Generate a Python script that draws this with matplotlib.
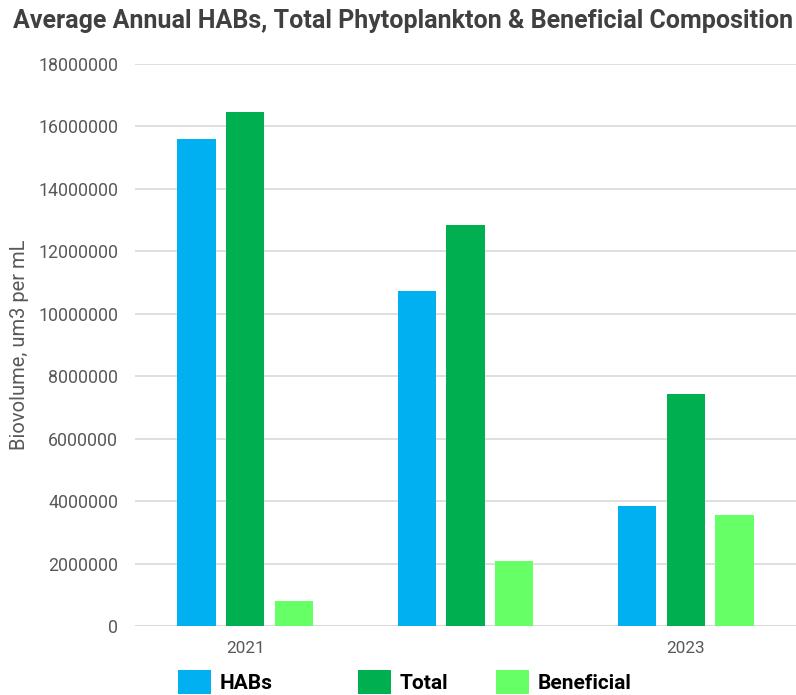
import matplotlib
matplotlib.use("Agg")
import matplotlib.pyplot as plt
from matplotlib.patches import Patch
import numpy as np

years = ["2021", "2022", "2023"]
year_labels = ["2021", "", "2023"]
habs = [15600000, 10730000, 3850000]
total = [16450000, 12830000, 7420000]
beneficial = [810000, 2080000, 3550000]
series_names = ["HABs", "Total", "Beneficial"]
colors = ["#00B0F0", "#00B050", "#66FF66"]
yticks = list(range(0, 18000001, 2000000))

plt.rcParams["font.family"] = ["Roboto", "DejaVu Sans"]

fig = plt.figure(figsize=(7.96, 6.95), dpi=100)
ax = fig.add_axes([135 / 796, 69 / 695, 661 / 796, 562 / 695])

x = np.arange(len(years))
width = 38 / 219.5
step = 48.5 / 219.5
for i, (vals, col, name) in enumerate(zip([habs, total, beneficial], colors, series_names)):
    ax.bar(x + (i - 1) * step, vals, width=width, color=col, label=name, zorder=3)

ax.set_xlim(-0.5, 2.5)
ax.set_ylim(0, 18000000)
ax.set_yticks(yticks)
ax.set_yticklabels([str(v) for v in yticks], color="#595959", fontsize=12.8)
ax.set_xticks(x)
ax.set_xticklabels(year_labels, color="#595959", fontsize=12.4)
ax.tick_params(axis="both", length=0)
ax.tick_params(axis="y", pad=12)
ax.tick_params(axis="x", pad=11)
ax.grid(axis="y", color="#D9D9D9", linewidth=1.2, zorder=0)
for s in ax.spines.values():
    s.set_visible(False)
ax.axhline(0, color="#D9D9D9", linewidth=1.2, zorder=2)

fig.text(20 / 796, 350 / 695, "Biovolume, um3 per mL", rotation=90,
         ha="center", va="center", color="#595959", fontsize=14.5)

fig.text(13 / 796, 1 - 21 / 695, "Average Annual HABs, Total Phytoplankton & Beneficial Composition",
         ha="left", va="center", fontsize=18, fontweight="bold", color="#404040")

# legend entries placed individually along the bottom
leg_x = [178, 358, 496]
for name, col, lx in zip(series_names, colors, leg_x):
    fig.legend([Patch(facecolor=col)], [name], loc="center left",
               bbox_to_anchor=(lx / 796, 1 - 682 / 695), frameon=False,
               prop={"weight": "bold", "size": 15}, labelcolor="#000000",
               handlelength=1.6, handleheight=1.4, handletextpad=0.4,
               borderpad=0, borderaxespad=0)

fig.savefig("out.png", dpi=100)
